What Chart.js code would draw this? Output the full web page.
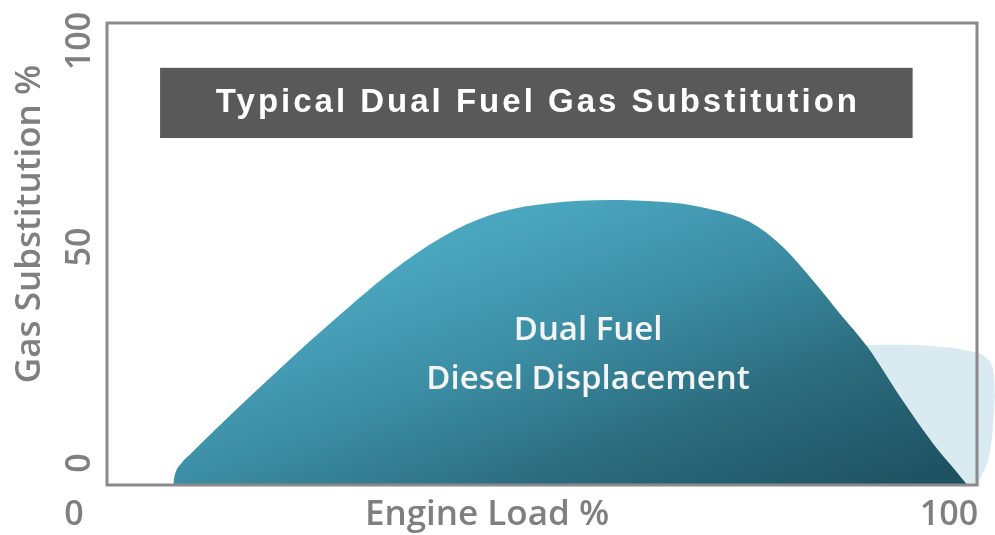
<!DOCTYPE html>
<html>
<head>
<meta charset="utf-8">
<script src="https://cdn.jsdelivr.net/npm/chart.js@4.4.0/dist/chart.umd.min.js"></script>
<style>
  body { margin: 0; background: #fff; }
  canvas { display: block; }
</style>
</head>
<body>
<canvas id="gasChart" width="995" height="535"></canvas>
<script>
// dual fuel curve (engine load %, gas substitution %)
let loadPct = [7.6, 7.8, 8.5, 9.8, 12.4, 17.6, 25.6, 34.2, 40, 45.2, 50.9, 57.8, 63.6, 68.2, 73.9, 77.7, 80.8, 84.2, 87.4, 91.2, 94.9, 97.5, 98.9];
let substitution = [0, 2.2, 4.6, 7.1, 11.9, 21.2, 34.9, 48.3, 55.2, 59.1, 61, 61.7, 61.3, 60.2, 56.9, 51.5, 45, 37.2, 29.9, 19, 9.1, 3.2, 0];

// pale shape at the right, runs past 100 (last point closes it along the bottom)
let paleLoad = [85.4, 94.6, 100, 101.5, 102, 101.9, 101.3, 100.3, 102.07];
let paleSub = [30.3, 30.1, 28.6, 26.6, 22.7, 14.1, 5.4, 0, 0];

let yTicks = [0, 50, 100];
let xTicks = [0, 100];
let title = 'Typical Dual Fuel Gas Substitution';
let areaLabel = ['Dual Fuel', 'Diesel Displacement'];

const grey = '#7f7f7f';

function toPoints(xs, ys) {
    return xs.map((x, i) => ({ x: x, y: ys[i] }));
}

// gradient for the main shape, light top-left to dark bottom-right
function tealFill(context) {
    let chart = context.chart;
    if (!chart.chartArea) return '#3a8fa8';
    let g = chart.ctx.createLinearGradient(137, 362, 275, 724);
    g.addColorStop(0, '#4aa6bf');
    g.addColorStop(0.32, '#3c8ea5');
    g.addColorStop(0.65, '#2c6c7e');
    g.addColorStop(1, '#1e5263');
    return g;
}

const decorations = {
    id: 'decorations',
    afterDatasetsDraw(chart) {
        let ctx = chart.ctx;
        let x = chart.scales.x;
        let y = chart.scales.y;
        ctx.save();

        // frame around 0..100
        let left = x.getPixelForValue(0), right = x.getPixelForValue(100);
        let top = y.getPixelForValue(100), bottom = y.getPixelForValue(0);
        ctx.strokeStyle = '#8a8a8a';
        ctx.lineWidth = 3;
        ctx.strokeRect(left, top, right - left, bottom - top);

        // banner
        ctx.fillStyle = '#595959';
        ctx.fillRect(x.getPixelForValue(6.1), y.getPixelForValue(90.3), x.getPixelForValue(92.6) - x.getPixelForValue(6.1), y.getPixelForValue(75.1) - y.getPixelForValue(90.3));
        ctx.fillStyle = '#ffffff';
        ctx.font = 'bold 33px "Liberation Sans", Arial, sans-serif';
        ctx.letterSpacing = '3px';
        ctx.textAlign = 'center';
        ctx.textBaseline = 'middle';
        ctx.fillText(title, x.getPixelForValue(49.3) + 2, y.getPixelForValue(82.7));
        ctx.letterSpacing = '0px';

        // label inside the shape
        ctx.fillStyle = '#f4f4f4';
        ctx.font = '600 33px "Open Sans", sans-serif';
        ctx.fillText(areaLabel[0], x.getPixelForValue(55.3), 331);
        ctx.fillText(areaLabel[1], x.getPixelForValue(55.3), 380);

        // axis tick labels
        ctx.fillStyle = grey;
        ctx.font = '600 34px "Open Sans", sans-serif';
        let yOffsets = [-22, -7, 18];
        yTicks.forEach((v, i) => {
            ctx.save();
            ctx.translate(80, y.getPixelForValue(v) + yOffsets[i]);
            ctx.rotate(-Math.PI / 2);
            ctx.fillText(String(v), 0, 0);
            ctx.restore();
        });
        ctx.fillText(String(xTicks[0]), x.getPixelForValue(xTicks[0]) - 33, 515);
        ctx.fillText(String(xTicks[1]), x.getPixelForValue(xTicks[1]) - 28, 515);

        // axis titles
        ctx.font = '600 35px "Open Sans", sans-serif';
        ctx.fillText('Engine Load %', 487, 515);
        ctx.save();
        ctx.translate(30, 224);
        ctx.rotate(-Math.PI / 2);
        ctx.fillText('Gas Substitution %', 0, 0);
        ctx.restore();

        ctx.restore();
    }
};

new Chart(document.getElementById('gasChart'), {
    type: 'scatter',
    data: {
        datasets: [{
            label: 'Dual Fuel Diesel Displacement',
            data: toPoints(loadPct, substitution),
            showLine: true,
            cubicInterpolationMode: 'monotone',
            borderWidth: 0,
            borderColor: 'rgba(0,0,0,0)',
            backgroundColor: tealFill,
            fill: 'origin',
            pointRadius: 0
        }, {
            label: 'pale',
            data: toPoints(paleLoad, paleSub),
            showLine: true,
            tension: 0.4,
            borderWidth: 0,
            borderColor: 'rgba(0,0,0,0)',
            backgroundColor: '#d9eaf0',
            fill: 'origin',
            pointRadius: 0
        }]
    },
    options: {
        responsive: false,
        animation: false,
        layout: {
            padding: { left: 107, right: 0, top: 23, bottom: 50 }
        },
        plugins: {
            legend: { display: false },
            tooltip: { enabled: false }
        },
        scales: {
            x: { type: 'linear', min: 0, max: 102.07, display: false },
            y: { min: 0, max: 100, display: false }
        }
    },
    plugins: [decorations]
});
</script>
</body>
</html>
